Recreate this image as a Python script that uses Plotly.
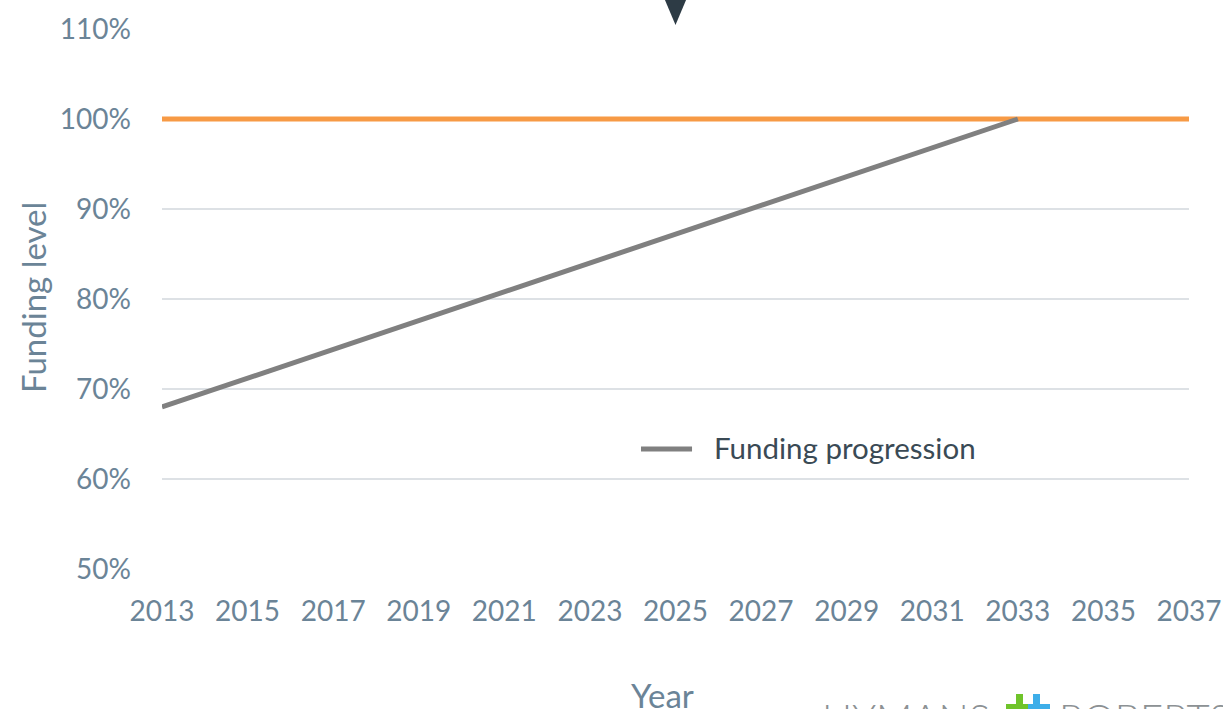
import plotly.graph_objects as go

# Funding level projection
progression_years = [2013, 2033]
progression_level = [68, 100]

target_years = [2013, 2037]
target_level = [100, 100]

marker_year = 2025

y_ticks = [50, 60, 70, 80, 90, 100, 110]
y_tick_labels = ["50%", "60%", "70%", "80%", "90%", "100%", "110%"]
x_ticks = list(range(2013, 2038, 2))

AXIS_COLOR = "#6b8497"
FONT = "Lato"

fig = go.Figure()

fig.add_trace(go.Scatter(
    x=target_years, y=target_level, mode="lines",
    line=dict(color="#f79a45", width=5),
    name="Target", showlegend=False, hoverinfo="skip",
))
fig.add_trace(go.Scatter(
    x=progression_years, y=progression_level, mode="lines",
    line=dict(color="#808080", width=5),
    name="Funding progression", showlegend=False,
))

# hand-drawn legend entry
fig.add_shape(type="line", xref="paper", yref="paper",
              x0=0.4664, x1=0.5161, y0=0.2222, y1=0.2222,
              line=dict(color="#808080", width=5))
fig.add_annotation(xref="paper", yref="paper", x=0.5355, y=0.2259,
                   xanchor="left", yanchor="middle", showarrow=False,
                   text="Funding progression",
                   font=dict(family=FONT, size=29.5, color="#3a4a55"))

# "now" marker arrow above the plot
fig.add_shape(type="path", xref="x", yref="paper",
              path=f"M {marker_year - 0.28},1.06 L {marker_year + 0.28},1.06 L {marker_year},1.0074 Z",
              fillcolor="#2d3b45", line=dict(width=0))

# axis titles
fig.add_annotation(xref="paper", yref="paper", x=0.4878, y=-0.2333,
                   xanchor="center", yanchor="middle", showarrow=False,
                   text="Year", font=dict(family=FONT, size=33, color=AXIS_COLOR))
fig.add_annotation(xref="paper", yref="paper", x=-0.1256, y=0.5019,
                   xanchor="center", yanchor="middle", showarrow=False,
                   textangle=-90, text="Funding level",
                   font=dict(family=FONT, size=33, color=AXIS_COLOR))

# company logo
fig.add_annotation(xref="paper", yref="paper", x=(820 - 162) / 1027, y=-0.228,
                   xanchor="left", yanchor="top", showarrow=False,
                   text="HYMANS",
                   font=dict(family=FONT, size=40, color="#8c9194", weight=300))
fig.add_annotation(xref="paper", yref="paper", x=(1057 - 162) / 1027, y=-0.228,
                   xanchor="left", yanchor="top", showarrow=False,
                   text="ROBERTSON",
                   font=dict(family=FONT, size=40, color="#8c9194", weight=300))
for x0, x1, y0, y1, col in [
    ((1016 - 162) / 1027, (1023 - 162) / 1027, -0.2315, -0.26, "#6fc42a"),
    ((1033 - 162) / 1027, (1040 - 162) / 1027, -0.2315, -0.26, "#3daee9"),
    ((1006 - 162) / 1027, (1028 - 162) / 1027, -0.2500, -0.26, "#6fc42a"),
    ((1028 - 162) / 1027, (1050 - 162) / 1027, -0.2500, -0.26, "#3daee9"),
]:
    fig.add_shape(type="rect", xref="paper", yref="paper",
                  x0=x0, x1=x1, y0=y0, y1=y1,
                  fillcolor=col, line=dict(width=0), layer="above")

fig.update_layout(
    width=1223, height=709,
    margin=dict(l=162, r=34, t=29, b=140),
    plot_bgcolor="white", paper_bgcolor="white",
    font=dict(family=FONT, color=AXIS_COLOR),
)
fig.update_xaxes(
    range=[2013, 2037], tickvals=x_ticks,
    ticktext=[str(v) for v in x_ticks],
    showgrid=False, zeroline=False, showline=False, automargin=False,
    tickfont=dict(family=FONT, size=28, color=AXIS_COLOR),
    ticks="", ticklabelstandoff=23,
)
fig.update_yaxes(
    range=[50, 110], tickvals=y_ticks, ticktext=y_tick_labels,
    showgrid=True, gridcolor="#dde1e5", gridwidth=2,
    zeroline=False, showline=False, automargin=False,
    tickfont=dict(family=FONT, size=28, color=AXIS_COLOR),
    ticks="", ticklabelstandoff=30,
)

fig.write_html("out.html")
